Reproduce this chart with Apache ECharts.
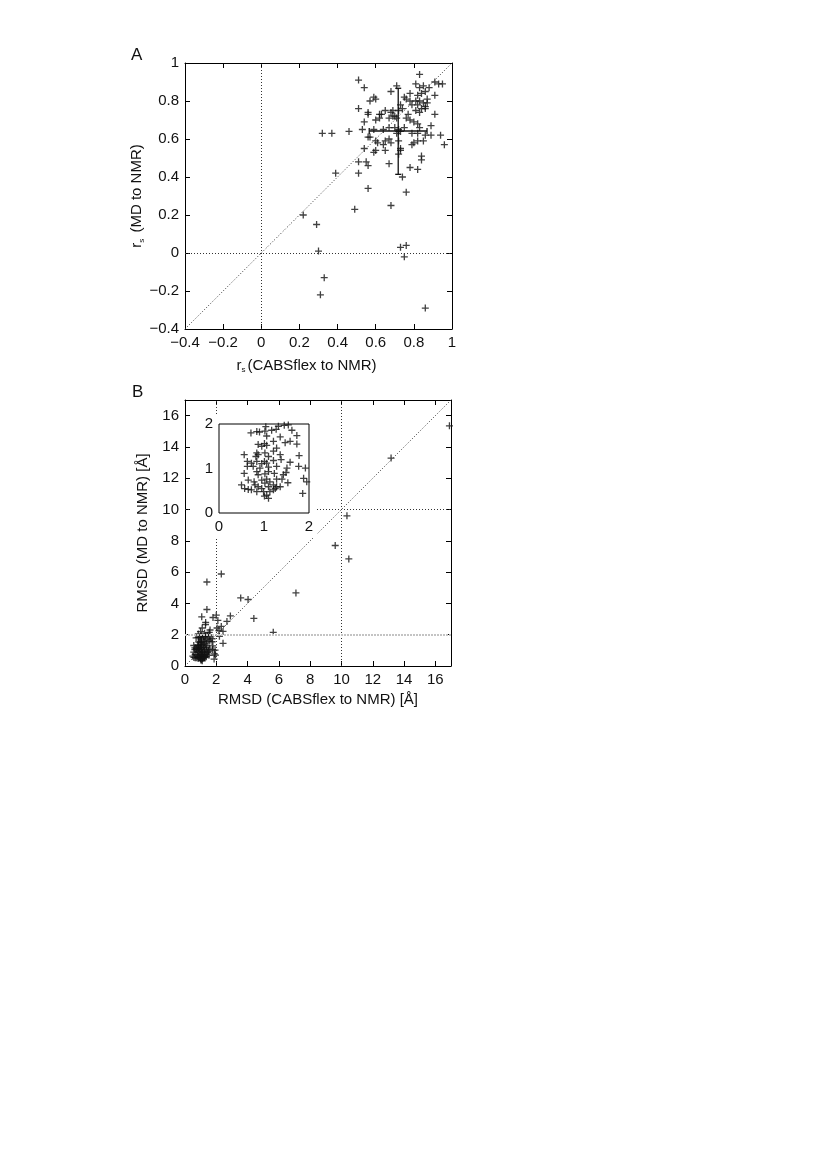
<!DOCTYPE html>
<html>
<head>
<meta charset="utf-8">
<script src="https://cdn.jsdelivr.net/npm/echarts@6/dist/echarts.min.js"></script>
<style>
  html, body { margin: 0; background: #fff; }
  #main { width: 827px; height: 1168px; }
</style>
</head>
<body>
<div id="main"></div>
<script>
// panel A: Spearman r_s, CABSflex vs NMR (x) and MD vs NMR (y)
var rsPoints = [
  [0.83,0.94],[0.51,0.91],[0.54,0.87],[0.71,0.88],[0.81,0.89],[0.83,0.87],[0.85,0.88],[0.88,0.87],[0.91,0.90],[0.93,0.89],[0.95,0.89],
  [0.68,0.85],[0.59,0.82],[0.60,0.81],[0.57,0.80],
  [0.75,0.82],[0.78,0.84],[0.82,0.83],[0.84,0.84],[0.86,0.85],[0.91,0.83],
  [0.76,0.81],[0.78,0.80],[0.81,0.80],[0.83,0.80],[0.87,0.81],[0.87,0.79],
  [0.79,0.78],[0.82,0.78],[0.85,0.79],[0.86,0.77],[0.86,0.76],
  [0.51,0.76],[0.56,0.74],[0.56,0.73],[0.62,0.73],[0.63,0.73],[0.65,0.75],
  [0.68,0.74],[0.69,0.75],[0.70,0.72],[0.73,0.78],[0.72,0.75],[0.74,0.76],
  [0.81,0.75],[0.83,0.74],[0.84,0.76],[0.91,0.73],
  [0.60,0.70],[0.62,0.71],[0.67,0.71],[0.69,0.72],[0.71,0.71],
  [0.77,0.73],[0.76,0.71],[0.78,0.70],[0.54,0.69],
  [0.80,0.69],[0.82,0.68],[0.83,0.66],[0.89,0.67],
  [0.53,0.65],[0.32,0.63],[0.37,0.63],[0.46,0.64],
  [0.59,0.65],[0.64,0.65],[0.67,0.66],[0.70,0.66],[0.72,0.65],[0.73,0.64],[0.75,0.66],[0.71,0.63],[0.72,0.64],
  [0.79,0.63],[0.82,0.63],[0.86,0.62],[0.89,0.62],[0.94,0.62],
  [0.56,0.61],[0.57,0.61],
  [0.60,0.59],[0.61,0.58],[0.64,0.57],[0.65,0.59],[0.68,0.58],[0.67,0.60],
  [0.72,0.59],[0.73,0.55],[0.73,0.54],
  [0.80,0.58],[0.79,0.57],[0.82,0.59],[0.85,0.59],[0.96,0.57],
  [0.54,0.55],[0.59,0.53],[0.60,0.54],[0.65,0.54],[0.72,0.52],
  [0.84,0.51],[0.84,0.49],
  [0.51,0.48],[0.55,0.48],[0.56,0.46],[0.67,0.47],
  [0.78,0.45],[0.82,0.44],[0.51,0.42],[0.39,0.42],[0.74,0.40],
  [0.56,0.34],[0.76,0.32],[0.68,0.25],[0.49,0.23],[0.22,0.20],[0.29,0.15],[0.30,0.01],
  [0.73,0.03],[0.76,0.04],[0.75,-0.02],[0.33,-0.13],[0.31,-0.22],[0.86,-0.29]
];
// mean with spread (x-range, y-range)
var rsMean = [0.718, 0.642];
var rsSpreadX = [0.566, 0.869];
var rsSpreadY = [0.414, 0.867];
var rsTicks = [-0.4, 1, 0.2];

// panel B: RMSD [A], points inside the 0..2 box (also shown in the inset)
var rmsdSmall = [
  [0.71,1.80],[0.84,1.83],[0.90,1.82],[1.02,1.84],[1.04,1.94],[1.17,1.86],[1.27,1.88],[1.32,1.95],[1.45,1.97],[1.54,1.98],[1.62,1.86],[1.73,1.74],
  [1.06,1.73],[1.36,1.71],[1.21,1.61],[1.47,1.58],[1.58,1.61],[1.73,1.55],
  [0.87,1.54],[1.01,1.56],[0.95,1.50],[1.06,1.52],[1.28,1.46],
  [0.56,1.31],[0.84,1.35],[0.87,1.31],[0.82,1.27],[1.02,1.35],[1.10,1.27],[1.21,1.39],[1.36,1.31],[1.78,1.29],
  [0.63,1.16],[0.72,1.12],[0.84,1.16],[0.95,1.11],[1.01,1.16],[1.06,1.12],[1.21,1.18],[1.38,1.20],[1.58,1.14],
  [0.63,1.05],[0.76,1.05],[0.91,1.01],[1.10,1.03],[1.28,1.05],[1.51,1.01],[1.77,1.05],[1.92,1.01],
  [0.56,0.89],[0.84,0.93],[0.87,0.86],[1.02,0.88],[1.10,0.93],[1.23,0.89],[1.49,0.91],[1.43,0.86],
  [0.65,0.74],[0.78,0.70],[0.95,0.74],[1.06,0.76],[1.13,0.70],[1.28,0.76],[1.40,0.76],[1.53,0.68],[1.88,0.78],[1.95,0.70],
  [0.50,0.63],[0.57,0.55],[0.65,0.53],[0.72,0.52],[0.80,0.63],[0.87,0.59],[0.95,0.55],[1.02,0.67],[1.10,0.59],[1.21,0.63],[1.28,0.59],[1.36,0.59],
  [0.84,0.48],[0.99,0.48],[1.06,0.40],[1.13,0.48],[1.21,0.52],[1.25,0.55],
  [1.01,0.38],[1.10,0.33],[1.86,0.44]
];
// panel B: the rest
var rmsdLarge = [
  [1.40,5.37],[2.32,5.88],[1.40,3.61],[1.07,3.14],[1.32,2.78],[2.00,3.25],[1.79,3.10],[2.90,3.20],[2.68,2.85],
  [2.10,2.91],[2.32,2.53],[2.17,2.27],[2.43,2.21],[2.20,1.90],[2.43,1.45],[2.05,2.43],[1.10,2.43],[1.31,2.64],
  [0.99,2.20],[1.25,2.10],[1.55,2.15],[1.60,2.30],[0.85,2.05],
  [3.56,4.35],[4.03,4.25],[4.40,3.04],[5.64,2.15],[7.09,4.67],
  [9.60,7.70],[10.47,6.84],[10.35,9.60],[13.17,13.29],[16.9,15.35]
];
var rmsdTicks = [0, 17, 2];
var insetTicks = [0, 2, 1];

var FONT = '"Liberation Sans", Arial, Helvetica, sans-serif';
var FS = 15;
var PLUS = 'path://M5,0V10M0,5H10';
var DOT = [1, 2];

function fmt(v) {
  return String(v).replace('-', '\u2212');
}

// max label only when the max sits on a tick
function onTick(t) {
  var k = (t[1] - t[0]) / t[2];
  return Math.abs(k - Math.round(k)) < 1e-6;
}

function axis(grid, pos, t, extra) {
  var a = {
    type: 'value', gridIndex: grid, position: pos,
    min: t[0], max: t[1], interval: t[2],
    axisLine: { show: true, onZero: false, lineStyle: { color: '#000', width: 1 } },
    axisTick: { show: true, inside: true, length: 5, lineStyle: { color: '#000' } },
    axisLabel: {
      show: pos == 'bottom' || pos == 'left',
      showMaxLabel: onTick(t),
      fontFamily: FONT, fontSize: FS, color: '#111',
      margin: 6,
      formatter: fmt
    },
    splitLine: { show: false }
  };
  return Object.assign(a, extra || {});
}

var nameStyle = {
  fontFamily: FONT, fontSize: FS, color: '#111',
  rich: {
    r: { fontFamily: FONT, fontSize: FS, color: '#111' },
    s: { fontFamily: FONT, fontSize: 8, color: '#111', padding: [9, 2, 0, 0] },
    t: { fontFamily: FONT, fontSize: FS, color: '#111' }
  }
};

var chart = echarts.init(document.getElementById('main'));

var option = {
  animation: false,
  backgroundColor: '#fff',
  title: [
    { text: 'A', left: 131, top: 47, padding: 0, textStyle: { fontFamily: FONT, fontSize: 17, fontWeight: 'normal', color: '#111' } },
    { text: 'B', left: 132, top: 384, padding: 0, textStyle: { fontFamily: FONT, fontSize: 17, fontWeight: 'normal', color: '#111' } }
  ],
  grid: [
    { left: 185, top: 63, width: 267, height: 266 },
    { left: 185, top: 400, width: 266, height: 266 },
    { left: 219, top: 424, width: 90, height: 89, show: true, borderColor: '#000', borderWidth: 1, backgroundColor: 'transparent', z: 60 }
  ],
  graphic: [
    // white patch behind the inset
    { type: 'rect', shape: { x: 191, y: 416, width: 126, height: 122 }, style: { fill: '#fff' }, z: 50 }
  ],
  xAxis: [
    axis(0, 'bottom', rsTicks, {
      name: '{r|r}{s|s}{t|(CABSflex to NMR)}', nameLocation: 'middle', nameGap: 28,
      nameTextStyle: Object.assign({ padding: [0, 24, 0, 0] }, nameStyle)
    }),
    axis(0, 'top', rsTicks),
    axis(1, 'bottom', rmsdTicks, {
      name: 'RMSD (CABSflex to NMR) [Å]', nameLocation: 'middle', nameGap: 26,
      nameTextStyle: { fontFamily: FONT, fontSize: FS, color: '#111' }
    }),
    axis(1, 'top', rmsdTicks),
    axis(2, 'bottom', insetTicks, { axisTick: { show: false }, axisLine: { show: false }, z: 61 })
  ],
  yAxis: [
    axis(0, 'left', rsTicks, {
      name: '{r|r}{s|s}{t| (MD to NMR)}', nameLocation: 'middle', nameGap: 36,
      nameTextStyle: nameStyle
    }),
    axis(0, 'right', rsTicks),
    axis(1, 'left', rmsdTicks, {
      name: 'RMSD (MD to NMR) [Å]', nameLocation: 'middle', nameGap: 35,
      nameTextStyle: { fontFamily: FONT, fontSize: FS, color: '#111' }
    }),
    axis(1, 'right', rmsdTicks),
    axis(2, 'left', insetTicks, { axisTick: { show: false }, axisLine: { show: false }, z: 61 })
  ],
  series: [
    {
      type: 'scatter', xAxisIndex: 0, yAxisIndex: 0,
      symbol: PLUS, symbolSize: 7,
      itemStyle: { color: 'transparent', borderColor: '#111', borderWidth: 1.3 },
      data: rsPoints,
      markLine: {
        silent: true, symbol: 'none', label: { show: false },
        lineStyle: { type: DOT, color: '#333', width: 1 },
        data: [
          { xAxis: 0 }, { yAxis: 0 },
          [{ coord: [rsTicks[0], rsTicks[0]] }, { coord: [rsTicks[1], rsTicks[1]] }]
        ]
      }
    },
    {
      type: 'custom', xAxisIndex: 0, yAxisIndex: 0,
      encode: { x: [0, 2, 3], y: [1, 4, 5] },
      data: [[rsMean[0], rsMean[1], rsSpreadX[0], rsSpreadX[1], rsSpreadY[0], rsSpreadY[1]]],
      renderItem: function (params, api) {
        var l = api.coord([api.value(2), api.value(1)]);
        var r = api.coord([api.value(3), api.value(1)]);
        var b = api.coord([api.value(0), api.value(4)]);
        var t = api.coord([api.value(0), api.value(5)]);
        var cap = 3;
        var st = { stroke: '#111', lineWidth: 1.3 };
        return {
          type: 'group',
          children: [
            { type: 'line', shape: { x1: l[0], y1: l[1], x2: r[0], y2: r[1] }, style: st },
            { type: 'line', shape: { x1: l[0], y1: l[1] - cap, x2: l[0], y2: l[1] + cap }, style: st },
            { type: 'line', shape: { x1: r[0], y1: r[1] - cap, x2: r[0], y2: r[1] + cap }, style: st },
            { type: 'line', shape: { x1: b[0], y1: b[1], x2: t[0], y2: t[1] }, style: st },
            { type: 'line', shape: { x1: b[0] - cap, y1: b[1], x2: b[0] + cap, y2: b[1] }, style: st },
            { type: 'line', shape: { x1: t[0] - cap, y1: t[1], x2: t[0] + cap, y2: t[1] }, style: st }
          ]
        };
      }
    },
    {
      type: 'scatter', xAxisIndex: 2, yAxisIndex: 2,
      symbol: PLUS, symbolSize: 7,
      itemStyle: { color: 'transparent', borderColor: '#111', borderWidth: 1.3 },
      data: rmsdSmall.concat(rmsdLarge),
      markLine: {
        silent: true, symbol: 'none', label: { show: false },
        lineStyle: { type: DOT, color: '#333', width: 1 },
        data: [
          { xAxis: 2 }, { xAxis: 10 }, { yAxis: 10 },
          { yAxis: 2, lineStyle: { type: [2, 1], color: '#c4c4c4', width: 2 } },
          [{ coord: [rmsdTicks[0], rmsdTicks[0]] }, { coord: [rmsdTicks[1], rmsdTicks[1]] }]
        ]
      }
    },
    {
      type: 'scatter', xAxisIndex: 4, yAxisIndex: 4, z: 62,
      symbol: PLUS, symbolSize: 7,
      itemStyle: { color: 'transparent', borderColor: '#111', borderWidth: 1.3 },
      data: rmsdSmall,
      markLine: {
        silent: true, symbol: 'none', label: { show: false },
        lineStyle: { type: DOT, color: '#333', width: 1 },
        data: [{ xAxis: 1 }, { yAxis: 1 }]
      }
    }
  ]
};

chart.setOption(option);
</script>
</body>
</html>
